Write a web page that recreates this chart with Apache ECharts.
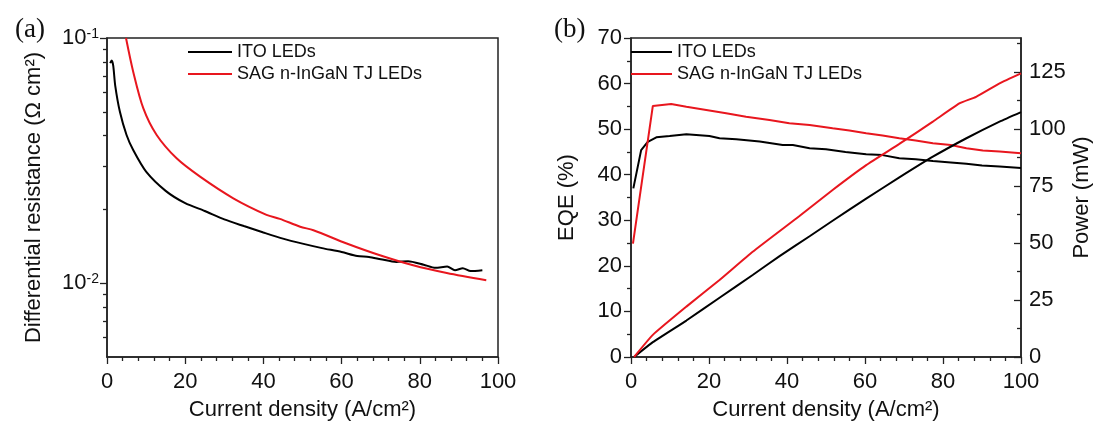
<!DOCTYPE html>
<html>
<head>
<meta charset="utf-8">
<script src="https://cdn.jsdelivr.net/npm/echarts@6/dist/echarts.min.js"></script>
<style>
html,body{margin:0;padding:0;background:#fff;}
#c{width:1094px;height:423px;}
</style>
</head>
<body>
<div id="c"></div>
<script>
// ---------- DATA ----------
var seriesNames = ['ITO LEDs', 'SAG n-InGaN TJ LEDs'];

// (a) differential resistance (Ohm cm^2) vs current density (A/cm^2)
var itoResJ = [0.8, 1.2, 1.6, 2.1, 3.3, 5.0, 6.7, 10, 15, 20, 25, 30, 35, 40, 45, 50, 55, 60, 64, 67, 70, 74, 77, 81, 84, 87, 89, 91, 93, 96];
var itoRes  = [0.079, 0.081, 0.077, 0.064, 0.050, 0.0402, 0.0349, 0.0285, 0.0238, 0.0212, 0.0197, 0.0182, 0.0171, 0.0161, 0.0152, 0.0145, 0.0139, 0.0134, 0.0129, 0.0128, 0.01253, 0.0122, 0.0123, 0.0119, 0.01155, 0.0117, 0.0113, 0.0115, 0.0112, 0.0113];
var sagResJ = [4.86, 6.7, 9.3, 12.7, 17.8, 23.8, 32.3, 40.8, 44.2, 49.4, 52.8, 61.3, 69.8, 78.3, 86.9, 97];
var sagRes  = [0.1, 0.0729, 0.0516, 0.0402, 0.0323, 0.0272, 0.0222, 0.0190, 0.0183, 0.0170, 0.01644, 0.01452, 0.0130, 0.01183, 0.0110, 0.01028];
var resMin = 0.005, resMax = 0.1;
var resLabelTicks = [0.01, 0.1];
var resMinorTicks = [0.006, 0.007, 0.008, 0.009, 0.02, 0.03, 0.04, 0.05, 0.06, 0.07, 0.08, 0.09];

// (b) EQE (%) and power (mW) vs current density
var itoEqeJ = [0.6, 2.6, 4.3, 6.5, 9.9, 14.2, 20.1, 22.7, 27, 33, 38.9, 41.5, 45.8, 50, 55, 60.3, 64.5, 68.8, 73, 77.4, 82, 86, 90, 94.5, 100];
var itoEqe  = [37.0, 45.4, 47.2, 48.2, 48.5, 48.9, 48.5, 48.0, 47.8, 47.3, 46.5, 46.5, 45.8, 45.6, 45.0, 44.5, 44.3, 43.6, 43.4, 43.0, 42.7, 42.4, 42.0, 41.8, 41.5];
var sagEqeJ = [0.5, 5.6, 10.3, 14.2, 19.3, 24.4, 29.5, 35.5, 40.6, 45.8, 51.7, 56, 60.3, 64.5, 68.8, 73, 77.4, 82, 86, 90.2, 94.5, 100];
var sagEqe  = [24.9, 55.1, 55.5, 54.9, 54.2, 53.5, 52.7, 52.0, 51.3, 50.9, 50.2, 49.7, 49.1, 48.6, 48.0, 47.5, 46.9, 46.5, 45.8, 45.3, 45.1, 44.7];
var itoPowJ = [0.8, 5.6, 14.2, 22.7, 31.2, 38.1, 45.8, 51.7, 60.3, 68.8, 77.4, 86, 94.5, 100];
var itoPow  = [0, 6.5, 16.0, 26.0, 36.0, 44.3, 53.0, 59.8, 69.5, 78.8, 87.9, 96.0, 103.3, 107.5];
var sagPowJ = [0.8, 5.6, 14.2, 22.7, 31.2, 43.2, 51.7, 60.3, 68.8, 77.4, 84.2, 88.5, 94.5, 100];
var sagPow  = [0, 9.7, 22.1, 33.8, 46.2, 61.9, 73.3, 84.2, 93.5, 103.3, 111.3, 114.2, 120.1, 124.5];
var powerLabelTicks = [0, 25, 50, 75, 100, 125];
var powerMinorTicks = [12.5, 37.5, 62.5, 87.5, 112.5, 137.5];

// ---------- CHART ----------
function pairs(xs, ys) { return xs.map(function (x, i) { return [x, ys[i]]; }); }
var FONT = "'Liberation Sans', Arial, sans-serif";
var SERIF = "'Liberation Serif', 'Times New Roman', serif";
var AX = '#222';
var RED = '#e8161e';
var BLACK = '#000000';
var TICK = { color: AX, width: 1.3 };

function xAxisFor(grid) {
  return {
    gridIndex: grid, type: 'value', min: 0, max: 100, interval: 20,
    axisLine: { lineStyle: { color: AX, width: 1.5 } },
    axisTick: { show: true, length: 7, lineStyle: TICK },
    minorTick: { show: true, splitNumber: 5, length: 4, lineStyle: TICK },
    axisLabel: { fontSize: 22, color: '#111', fontFamily: FONT, margin: 14 },
    splitLine: { show: false },
    name: 'Current density (A/cm²)', nameLocation: 'middle', nameGap: 42,
    nameTextStyle: { fontSize: 22, color: '#111', fontFamily: FONT }
  };
}
// tick-only axis (log10 space) overlaying panel (a)'s log axis
function logTickAxis(vals, len) {
  return { gridIndex: 0, type: 'value', min: Math.log10(resMin), max: Math.log10(resMax), position: 'left',
    axisLine: { show: false },
    axisTick: { show: true, length: len, customValues: vals.map(function (v) { return Math.log10(v); }), lineStyle: TICK },
    axisLabel: { show: false }, splitLine: { show: false } };
}

var chart = echarts.init(document.getElementById('c'), null, { renderer: 'canvas' });
var option = {
  backgroundColor: '#ffffff',
  animation: false,
  title: [
    { text: '(a)', left: 10, top: 11, textStyle: { fontFamily: SERIF, fontSize: 27, fontWeight: 'normal', color: '#111' } },
    { text: '(b)', left: 549, top: 11, textStyle: { fontFamily: SERIF, fontSize: 27, fontWeight: 'normal', color: '#111' } }
  ],
  legend: [
    { data: seriesNames, orient: 'vertical', left: 188, top: 43, padding: 0, itemWidth: 44, itemHeight: 2, icon: 'rect', itemGap: 4,
      textStyle: { fontSize: 18, color: '#111', fontFamily: FONT, lineHeight: 18 }, selectedMode: false },
    { data: seriesNames, orient: 'vertical', left: 631, top: 43, padding: 0, itemWidth: 41, itemHeight: 2, icon: 'rect', itemGap: 4,
      textStyle: { fontSize: 18, color: '#111', fontFamily: FONT, lineHeight: 18 }, selectedMode: false }
  ],
  grid: [
    { left: 107, top: 38, width: 391, height: 319, outerBoundsMode: 'none', containLabel: false,
      show: true, borderColor: AX, borderWidth: 1.5, backgroundColor: 'transparent' },
    { left: 631, top: 38, width: 390, height: 319, outerBoundsMode: 'none', containLabel: false,
      show: true, borderColor: AX, borderWidth: 1.5, backgroundColor: 'transparent' }
  ],
  xAxis: [xAxisFor(0), xAxisFor(1)],
  yAxis: [
    { gridIndex: 0, type: 'log', logBase: 10, min: resMin, max: resMax, position: 'left',
      axisLine: { show: true, lineStyle: { color: AX, width: 1.5 } },
      axisTick: { show: false },
      axisLabel: { customValues: resLabelTicks, color: '#111', fontFamily: FONT, fontSize: 22, margin: 8,
        formatter: function (v) { return '10{s|' + Math.round(Math.log10(v)) + '}'; },
        rich: { s: { fontSize: 14, lineHeight: 14, verticalAlign: 'top', color: '#111', fontFamily: FONT } } },
      splitLine: { show: false }, minorTick: { show: false },
      name: 'Differential resistance (Ω cm²)', nameLocation: 'middle', nameGap: 62,
      nameTextStyle: { fontSize: 22, color: '#111', fontFamily: FONT } },
    logTickAxis(resLabelTicks, 7),
    logTickAxis(resMinorTicks, 4),
    { gridIndex: 1, type: 'value', min: 0, max: 70, interval: 10, position: 'left',
      axisLine: { show: true, lineStyle: { color: AX, width: 1.5 } },
      axisTick: { show: true, length: 7, lineStyle: TICK },
      minorTick: { show: true, splitNumber: 2, length: 4, lineStyle: TICK },
      axisLabel: { color: '#111', fontFamily: FONT, fontSize: 22, margin: 9 },
      splitLine: { show: false },
      name: 'EQE (%)', nameLocation: 'middle', nameGap: 53,
      nameTextStyle: { fontSize: 22, color: '#111', fontFamily: FONT } },
    { gridIndex: 1, type: 'value', min: 0, max: 140, position: 'right',
      axisLine: { show: true, lineStyle: { color: AX, width: 1.5 } },
      axisTick: { show: true, inside: true, length: 7, customValues: powerLabelTicks, lineStyle: TICK },
      axisLabel: { customValues: powerLabelTicks, color: '#111', fontFamily: FONT, fontSize: 22, margin: 8 },
      splitLine: { show: false },
      name: 'Power (mW)', nameLocation: 'middle', nameGap: 50,
      nameTextStyle: { fontSize: 22, color: '#111', fontFamily: FONT } },
    { gridIndex: 1, type: 'value', min: 0, max: 140, position: 'right',
      axisLine: { show: false },
      axisTick: { show: true, inside: true, length: 4, customValues: powerMinorTicks, lineStyle: TICK },
      axisLabel: { show: false }, splitLine: { show: false } }
  ],
  series: [
    { name: seriesNames[0], type: 'line', xAxisIndex: 0, yAxisIndex: 0, data: pairs(itoResJ, itoRes), showSymbol: false, smooth: 0.25,
      lineStyle: { color: BLACK, width: 2 }, itemStyle: { color: BLACK } },
    { name: seriesNames[1], type: 'line', xAxisIndex: 0, yAxisIndex: 0, data: pairs(sagResJ, sagRes), showSymbol: false, smooth: 0.3,
      lineStyle: { color: RED, width: 2 }, itemStyle: { color: RED } },
    { name: seriesNames[0], type: 'line', xAxisIndex: 1, yAxisIndex: 3, data: pairs(itoEqeJ, itoEqe), showSymbol: false,
      lineStyle: { color: BLACK, width: 2 }, itemStyle: { color: BLACK } },
    { name: seriesNames[1], type: 'line', xAxisIndex: 1, yAxisIndex: 3, data: pairs(sagEqeJ, sagEqe), showSymbol: false,
      lineStyle: { color: RED, width: 2 }, itemStyle: { color: RED } },
    { name: seriesNames[0], type: 'line', xAxisIndex: 1, yAxisIndex: 4, data: pairs(itoPowJ, itoPow), showSymbol: false, smooth: 0.15,
      lineStyle: { color: BLACK, width: 2 }, itemStyle: { color: BLACK } },
    { name: seriesNames[1], type: 'line', xAxisIndex: 1, yAxisIndex: 4, data: pairs(sagPowJ, sagPow), showSymbol: false, smooth: 0.15,
      lineStyle: { color: RED, width: 2 }, itemStyle: { color: RED } }
  ]
};
chart.setOption(option);
</script>
</body>
</html>
